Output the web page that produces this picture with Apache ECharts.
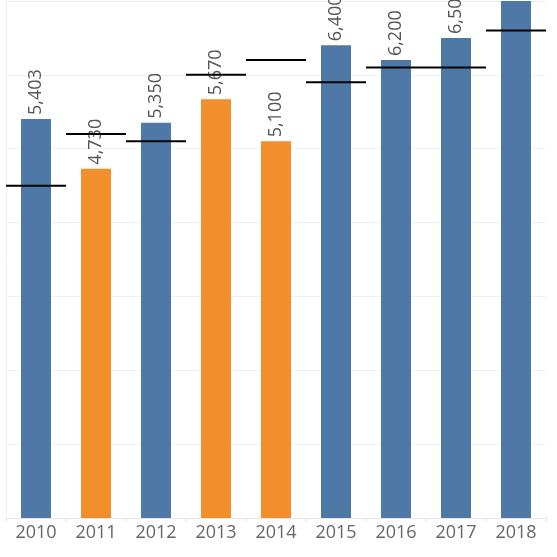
<!DOCTYPE html>
<html>
<head>
<meta charset="utf-8">
<script src="https://cdn.jsdelivr.net/npm/echarts@6/dist/echarts.min.js"></script>
<style>
  html, body { margin: 0; padding: 0; background: #fff; }
  #main { width: 557px; height: 557px; }
</style>
</head>
<body>
<div id="main"></div>
<script>
var years = ['2010', '2011', '2012', '2013', '2014', '2015', '2016', '2017', '2018'];
var actual = [5403, 4730, 5350, 5670, 5100, 6400, 6200, 6500, 7200];
var target = [4500, 5200, 5100, 6000, 6200, 5900, 6100, 6100, 6600];

var BLUE = '#4e79a7';
var ORANGE = '#f28e2b';

var myChart = echarts.init(document.getElementById('main'));

var barData = [];
for (var i = 0; i < actual.length; i++) {
    barData.push({
        value: actual[i],
        itemStyle: { color: actual[i] < target[i] ? ORANGE : BLUE }
    });
}

var option = {
    animation: false,
    grid: { left: 6, right: 11, top: 1, bottom: 39 },
    xAxis: {
        type: 'category',
        data: years,
        axisLine: { lineStyle: { color: '#e6e6e6' } },
        axisTick: { show: true, length: 4, lineStyle: { color: '#e6e6e6' } },
        axisLabel: {
            color: '#666',
            fontSize: 18,
            fontFamily: 'Open Sans',
            margin: 6
        }
    },
    yAxis: {
        type: 'value',
        min: 0,
        max: 7000,
        interval: 1000,
        axisLabel: { show: false },
        axisTick: { show: false },
        axisLine: { show: true, lineStyle: { color: '#f0f0f0' } },
        splitLine: { lineStyle: { color: '#f0f0f0' } }
    },
    series: [
        {
            type: 'bar',
            data: barData,
            barWidth: '50%',
            clip: true,
            label: {
                show: true,
                position: 'top',
                rotate: 90,
                align: 'left',
                verticalAlign: 'middle',
                distance: 4,
                color: '#555',
                fontSize: 18,
                fontFamily: 'Open Sans',
                formatter: function (p) {
                    return p.value.toLocaleString('en-US');
                }
            }
        },
        {
            type: 'custom',
            data: target,
            z: 5,
            renderItem: function (params, api) {
                var c = api.coord([api.value(0), api.value(1)]);
                var w = api.size([1, 0])[0];
                return {
                    type: 'line',
                    shape: { x1: c[0] - w / 2, y1: c[1], x2: c[0] + w / 2, y2: c[1] },
                    style: { stroke: '#000', lineWidth: 2 }
                };
            },
            encode: { x: 0, y: 1 }
        }
    ]
};

// custom series needs [index, value] pairs
option.series[1].data = target.map(function (v, i) { return [i, v]; });

myChart.setOption(option);
</script>
</body>
</html>
